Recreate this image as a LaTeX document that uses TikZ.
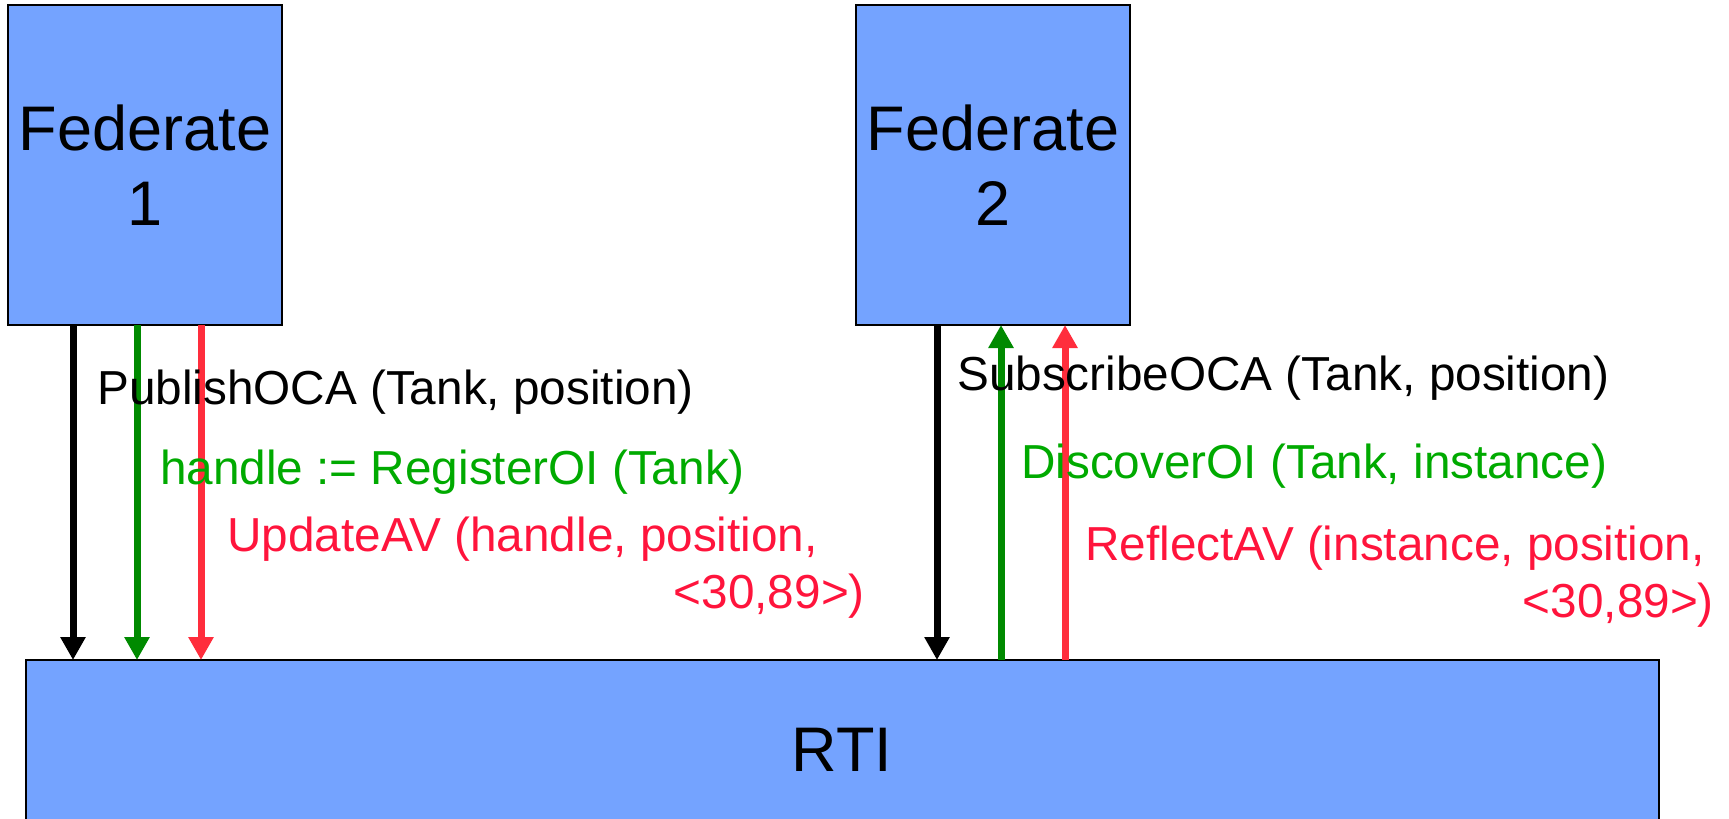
\documentclass[tikz,border=0pt]{standalone}
\usepackage{fontspec}
\setmainfont{Liberation Sans}
\usetikzlibrary{arrows.meta}
\definecolor{boxblue}{RGB}{116,163,255}
\definecolor{arrgreen}{RGB}{0,138,0}
\definecolor{txtgreen}{RGB}{0,170,0}
\definecolor{arrred}{RGB}{255,45,60}
\definecolor{txtred}{RGB}{255,20,60}
\begin{document}
\begin{tikzpicture}[x=1pt,y=-1pt,
  box/.style={draw=black,line width=2pt,fill=boxblue,inner sep=0pt,outer sep=0pt,
    align=center,font=\fontsize{63}{75}\selectfont},
  msg/.style={line width=7pt,-{Triangle[width=24pt,length=23pt]}},
  lbl/.style={inner sep=0pt,font=\fontsize{47.7}{57}\selectfont}]
\useasboundingbox (0,0) rectangle (1729,819);
\clip (0,0) rectangle (1729,819);
% boxes
\node[box,minimum width=274pt,minimum height=320pt] (f1) at (145,165) {Federate\\1};
\node[box,minimum width=274pt,minimum height=320pt] (f2) at (993,165) {Federate\\2};
\node[box,minimum width=1633pt,minimum height=180pt] (rti) at (842,750) {RTI};
% arrow start points
\path ([xshift=-72pt]f1.south) coordinate (a1)
      ([xshift=-8pt]f1.south) coordinate (a2)
      ([xshift=56pt]f1.south) coordinate (a3)
      ([xshift=-56pt]f2.south) coordinate (b1)
      ([xshift=8pt]f2.south) coordinate (b2)
      ([xshift=72pt]f2.south) coordinate (b3);
\draw[msg,black] (a1) -- (a1 |- rti.north);
\draw[msg,arrgreen] (a2) -- (a2 |- rti.north);
\draw[msg,arrred] (a3) -- (a3 |- rti.north);
\draw[msg,black] (b1) -- (b1 |- rti.north);
\draw[msg,arrgreen] (b2 |- rti.north) -- (b2);
\draw[msg,arrred] (b3 |- rti.north) -- (b3);
% labels
\node[lbl,anchor=base west] (l1) at (97,404) {PublishOCA (Tank, position)};
\node[lbl,anchor=base west,text=txtgreen] (l2) at (160,484) {handle := RegisterOI (Tank)};
\node[lbl,anchor=base east,text=txtred] (l3) at (865,551)
  {\begin{tabular}[t]{@{}r@{}}UpdateAV (handle, position,\hspace*{47pt}\\<30,89>)\end{tabular}};
\node[lbl,anchor=base west] (r1) at (957,390) {SubscribeOCA (Tank, position)};
\node[lbl,anchor=base west,text=txtgreen] (r2) at (1021,478) {DiscoverOI (Tank, instance)};
\node[lbl,anchor=base east,text=txtred] (r3) at (1714,560)
  {\begin{tabular}[t]{@{}r@{}}ReflectAV (instance, position,\hspace*{9pt}\\<30,89>)\end{tabular}};
\end{tikzpicture}
\end{document}
